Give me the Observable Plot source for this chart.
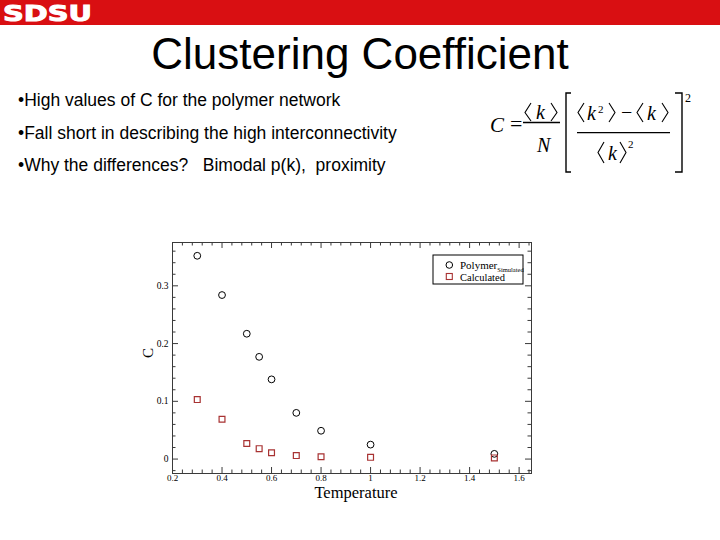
<!DOCTYPE html>
<html><head><meta charset="utf-8">
<script src="https://cdn.jsdelivr.net/npm/d3@7"></script>
<script src="https://cdn.jsdelivr.net/npm/@observablehq/plot@0.6"></script>
<style>
html,body{margin:0;padding:0;background:#fff;}
#slide{position:relative;width:720px;height:540px;overflow:hidden;background:#fff;}
#deco{position:absolute;left:0;top:0;}
#chart{position:absolute;left:120px;top:232px;}
</style></head><body>
<div id="slide">
<svg id="deco" width="720" height="540" xmlns="http://www.w3.org/2000/svg">
  <rect x="0" y="0" width="720" height="25" fill="#d90f12"/>
  <text x="3" y="21" fill="#fff" stroke="#fff" stroke-width="1" font-family="'DejaVu Sans', sans-serif" font-weight="bold" font-size="22" textLength="89" lengthAdjust="spacingAndGlyphs">SDSU</text>
  <text x="360" y="69" text-anchor="middle" font-family="'Liberation Sans', Arial, sans-serif" font-size="44" fill="#000">Clustering Coefficient</text>
  <g font-family="'Liberation Sans', Arial, sans-serif" font-size="17.5" fill="#000" style="white-space:pre">
    <text x="18" y="106" xml:space="preserve">•High values of C for the polymer network</text>
    <text x="18" y="138.5" xml:space="preserve">•Fall short in describing the high interconnectivity</text>
    <text x="18" y="171" xml:space="preserve">•Why the differences?   Bimodal p(k),  proximity</text>
  </g>
  <g transform="translate(470,80)" font-family="'Liberation Serif', 'Times New Roman', serif" fill="#000">
    <g fill="none" stroke="#000" stroke-width="1.1">
      <path d="M61,23 L55,32.5 L61,41"/>
      <path d="M81,23 L87,32.5 L81,41"/>
      <path d="M53,42.5 H90" stroke-width="1.3"/>
      <path d="M101,13 H96 V92 H101" stroke-width="1.4"/>
      <path d="M114,23 L108,32.5 L114,42"/>
      <path d="M139,23 L145,32.5 L139,42"/>
      <path d="M173,23 L167,32.5 L173,42"/>
      <path d="M192,23 L198,32.5 L192,42"/>
      <path d="M107,52.7 H200" stroke-width="1.3"/>
      <path d="M134,62 L128,72.5 L134,83"/>
      <path d="M150,62 L156,72.5 L150,83"/>
      <path d="M205,13 H212 V92 H205" stroke-width="1.4"/>
    </g>
    <text x="20" y="52" font-style="italic" font-size="21">C</text>
    <text x="40" y="51" font-size="22">=</text>
    <text x="66" y="39" font-style="italic" font-size="20">k</text>
    <text x="67" y="72" font-style="italic" font-size="20">N</text>
    <text x="117" y="40" font-style="italic" font-size="20">k</text>
    <text x="128" y="33" font-size="11">2</text>
    <text x="151" y="39" font-size="20">−</text>
    <text x="177" y="40" font-style="italic" font-size="20">k</text>
    <text x="138" y="80" font-style="italic" font-size="20">k</text>
    <text x="158" y="68" font-size="11">2</text>
    <text x="215" y="22" font-size="12">2</text>
  </g>
</svg>
<div id="chart"></div>
</div>
<script>
// ---- data ----
const temperature = [0.3, 0.4, 0.5, 0.55, 0.6, 0.7, 0.8, 1.0, 1.5];
const polymerSimulated = [0.352, 0.284, 0.217, 0.177, 0.138, 0.080, 0.049, 0.025, 0.009];
const calculated = [0.103, 0.069, 0.027, 0.018, 0.011, 0.006, 0.004, 0.003, 0.002];
const seriesNames = ["Polymer", "Calculated"];
const seriesSubscripts = ["Simulated", ""];
const xTicks = [0.2, 0.4, 0.6, 0.8, 1, 1.2, 1.4, 1.6];
const yTicks = [0, 0.1, 0.2, 0.3];
const xMinorTicks = [0.24, 0.28, 0.32, 0.36, 0.44, 0.48, 0.52, 0.56, 0.64, 0.68, 0.72, 0.76,
  0.84, 0.88, 0.92, 0.96, 1.04, 1.08, 1.12, 1.16, 1.24, 1.28, 1.32, 1.36, 1.44, 1.48, 1.52, 1.56, 1.64];
const yMinorTicks = [-0.02, 0.02, 0.04, 0.06, 0.08, 0.12, 0.14, 0.16, 0.18, 0.22, 0.24, 0.26, 0.28, 0.32, 0.34, 0.36];
const xLabel = "Temperature";
const yLabel = "C";

// ---- layout ----
const W = 420, H = 275;
const mL = 52, mR = 9, mT = 10, mB = 34;
const frameW = W - mL - mR, frameH = H - mT - mB;
const major = 6, minor = 3.5;
const ink = "#3a3a3a";
const serif = "'Liberation Serif', 'Times New Roman', serif";
const red = "#a83232";

const rows = temperature.flatMap((t, i) => [
  {t, c: polymerSimulated[i], s: seriesNames[0]},
  {t, c: calculated[i], s: seriesNames[1]}
]);

const plot = Plot.plot({
  width: W, height: H,
  marginLeft: mL, marginRight: mR, marginTop: mT, marginBottom: mB,
  style: {fontFamily: serif, background: "transparent", color: "#000"},
  x: {domain: [0.2, 1.65]},
  y: {domain: [-0.025, 0.375]},
  marks: [
    Plot.frame({stroke: ink, strokeWidth: 1}),
    Plot.tickX(xTicks, {x: d => d, insetTop: frameH - major, stroke: ink}),
    Plot.tickX(xTicks, {x: d => d, insetBottom: frameH - major, stroke: ink}),
    Plot.tickX(xMinorTicks, {x: d => d, insetTop: frameH - minor, stroke: ink}),
    Plot.tickX(xMinorTicks, {x: d => d, insetBottom: frameH - minor, stroke: ink}),
    Plot.tickY(yTicks, {y: d => d, insetRight: frameW - major, stroke: ink}),
    Plot.tickY(yTicks, {y: d => d, insetLeft: frameW - major, stroke: ink}),
    Plot.tickY(yMinorTicks, {y: d => d, insetRight: frameW - minor, stroke: ink}),
    Plot.tickY(yMinorTicks, {y: d => d, insetLeft: frameW - minor, stroke: ink}),
    Plot.axisX(xTicks, {tickSize: 0, tickPadding: 1, fontSize: 9, fontFamily: serif, tickFormat: d => String(d), label: null}),
    Plot.axisY(yTicks, {tickSize: 0, tickPadding: 4, fontSize: 9.5, fontFamily: serif, tickFormat: d => String(d), label: null}),
    Plot.text([xLabel], {text: d => d, frameAnchor: "bottom", dy: 24, dx: 4, fontSize: 16.5, fontFamily: serif, fill: "#000"}),
    Plot.text([yLabel], {text: d => d, frameAnchor: "left", dx: -24, rotate: -90, fontSize: 15, fontFamily: serif, fill: "#000"}),
    Plot.dot(rows.filter(d => d.s === seriesNames[0]), {x: "t", y: "c", symbol: "circle", r: 3.4, stroke: "#000", strokeWidth: 1, fill: "none"}),
    Plot.dot(rows.filter(d => d.s === seriesNames[1]), {x: "t", y: "c", symbol: "square", r: 3.3, stroke: red, strokeWidth: 1.2, fill: "none"})
  ]
});

// legend (Grace style box, top-right inside the frame)
const svg = d3.select(plot);
const lg = svg.append("g").attr("font-family", serif).attr("fill", "#000").attr("text-anchor", "start");
lg.append("rect").attr("x", 313).attr("y", 23).attr("width", 90).attr("height", 29)
  .attr("fill", "#fff").attr("stroke", "#000").attr("stroke-width", 1);
lg.append("circle").attr("cx", 329.3).attr("cy", 33).attr("r", 3.3).attr("fill", "none").attr("stroke", "#000");
lg.append("rect").attr("x", 326.3).attr("y", 41.5).attr("width", 6).attr("height", 6)
  .attr("fill", "none").attr("stroke", red).attr("stroke-width", 1.1);
const t1 = lg.append("text").attr("x", 340).attr("y", 36.5).attr("font-size", 11).attr("text-anchor", "start");
t1.append("tspan").text(seriesNames[0]);
t1.append("tspan").attr("font-size", 6.5).attr("dy", 3.5).text(seriesSubscripts[0]);
lg.append("text").attr("x", 340).attr("y", 48.5).attr("font-size", 10.5).attr("text-anchor", "start").text(seriesNames[1]);

document.getElementById("chart").appendChild(plot);
</script>
</body></html>
